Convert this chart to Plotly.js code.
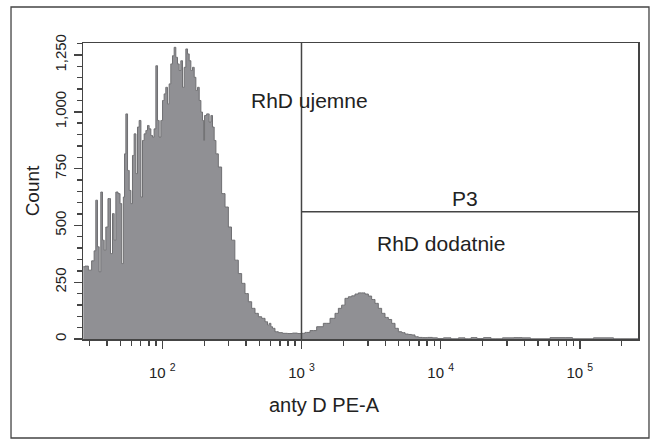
<!DOCTYPE html>
<html>
<head>
<meta charset="utf-8">
<script src="https://cdn.plot.ly/plotly-3.0.1.min.js"></script>
<style>html,body{margin:0;padding:0;background:#fff;}#chart{width:653px;height:444px;}</style>
</head>
<body>
<div id="chart"></div>
<script>
// Histogram bin positions (log10 of anty D PE-A) and counts
const binLog10 = [
  1.432,1.457,1.480,1.504,1.516,1.528,1.540,1.552,1.564,1.576,1.588,1.600,1.619,1.636,1.648,1.660,1.672,1.691,1.701,1.715,
  1.725,1.732,1.744,1.756,1.768,1.780,1.791,1.804,1.816,1.827,1.840,1.852,1.863,1.876,1.888,1.899,1.911,1.924,1.935,1.947,
  1.960,1.971,1.983,1.996,2.007,2.019,2.031,2.043,2.055,2.067,2.079,2.091,2.103,2.115,2.127,2.139,2.151,2.163,2.175,2.187,
  2.199,2.211,2.223,2.235,2.247,2.259,2.271,2.283,2.294,2.300,2.307,2.330,2.343,2.355,2.366,2.379,2.391,2.414,2.438,2.463,
  2.486,2.508,2.534,2.558,2.582,2.606,2.630,2.654,2.678,2.702,2.726,2.750,2.762,2.774,2.786,2.797,2.822,2.846,2.882,2.917,
  2.953,2.989,3.013,3.037,3.085,3.133,3.181,3.229,3.253,3.277,3.300,3.325,3.349,3.372,3.397,3.420,3.444,3.469,3.492,3.516,
  3.540,3.564,3.588,3.612,3.636,3.660,3.684,3.708,3.732,3.756,3.780,3.803,3.828,3.852,3.888,3.923,3.959,3.995,4.046,4.103,
  4.153,4.197,4.240,4.283,4.333,4.391,4.498,4.556,4.613,4.678,4.894,5.001,5.195,5.289,5.418
];
const counts = [
  318,321,303,344,388,611,406,296,647,435,391,493,618,376,552,435,647,640,596,332,
  625,815,991,742,654,596,808,903,728,933,962,625,874,903,918,940,925,896,889,925,
  1203,962,889,962,1050,1079,1108,1035,1123,1211,1247,1284,1240,1211,1182,1225,1108,1196,1277,1255,
  1225,1182,1196,1152,1094,1108,1050,999,962,874,984,991,955,984,933,874,815,757,640,581,
  493,435,347,288,245,200,164,135,113,98,91,76,61,69,54,47,32,28,25,24,
  26,24,25,29,37,54,69,91,113,135,149,179,186,190,198,203,203,198,189,174,
  157,135,113,95,86,69,47,32,28,22,20,18,10,7,6,7,5,2,5,1,
  5,1,6,2,6,1,5,6,5,1,6,1,5,1,1
];

// Axis ticks
const xTickVals = [100, 1000, 10000, 100000];
const xTickText = ['10 <sup>2</sup>', '10 <sup>3</sup>', '10 <sup>4</sup>', '10 <sup>5</sup>'];
const xMinorVals = [30,40,50,60,70,80,90,200,300,400,500,600,700,800,900,
  2000,3000,4000,5000,6000,7000,8000,9000,20000,30000,40000,50000,60000,70000,80000,90000,200000];
const yTickVals = [0, 250, 500, 750, 1000, 1250];

// Gate and labels
const gateX = 1000;
const gateY = 560;
const labels = [
  {text: 'RhD ujemne', logx: 3.060, y: 1050},
  {text: 'P3', logx: 4.175, y: 619},
  {text: 'RhD dodatnie', logx: 4.002, y: 422}
];
const xTitle = 'anty D PE-A';
const yTitle = 'Count';

const xs = binLog10.map(v => Math.pow(10, v));

const axisColor = '#444444';
const fontFam = '"Liberation Sans", Arial, sans-serif';

const trace = {
  x: xs, y: counts, type: 'scatter', mode: 'lines',
  line: {shape: 'hvh', color: '#6f6f72', width: 1},
  fill: 'tozeroy', fillcolor: '#909094',
  hoverinfo: 'skip'
};

const annots = labels.map(l => ({
  text: l.text, x: l.logx, y: l.y, xref: 'x', yref: 'y',
  showarrow: false, font: {size: 21, color: '#222'}, xanchor: 'center', yanchor: 'middle'
}));
annots.push({
  text: xTitle, x: 0.436, y: -0.223, xref: 'paper', yref: 'paper',
  showarrow: false, font: {size: 20, color: '#222'}, xanchor: 'center', yanchor: 'middle'
});

const layout = {
  width: 653, height: 444,
  margin: {l: 83, r: 15, t: 43, b: 105, pad: 0},
  paper_bgcolor: '#ffffff', plot_bgcolor: '#ffffff',
  font: {family: fontFam, color: '#222222', size: 13},
  showlegend: false,
  xaxis: {
    type: 'log', range: [1.43, 5.418], autorange: false,
    showgrid: false, zeroline: false,
    showline: true, linecolor: axisColor, linewidth: 1.5, mirror: true,
    ticks: 'outside', ticklen: 8, tickwidth: 1.4, tickcolor: axisColor,
    tickvals: xTickVals, ticktext: xTickText,
    ticklabelstandoff: 11,
    tickfont: {size: 15, color: '#222'},
    minor: {tickvals: xMinorVals, ticks: 'outside', ticklen: 5, tickwidth: 1.4, tickcolor: axisColor, showgrid: false}
  },
  yaxis: {
    range: [0, 1303], autorange: false,
    showgrid: false, zeroline: false,
    showline: true, linecolor: axisColor, linewidth: 1.5, mirror: true,
    ticks: 'outside', ticklen: 8, tickwidth: 1.4, tickcolor: axisColor,
    tickvals: yTickVals, tickformat: ',d', tickangle: -90,
    ticklabelstandoff: 2,
    tickfont: {size: 15, color: '#222'},
    minor: {dtick: 50, ticks: 'outside', ticklen: 5, tickwidth: 1.4, tickcolor: axisColor, showgrid: false},
    title: {text: yTitle, font: {size: 19, color: '#222'}, standoff: 7}
  },
  shapes: [
    {type: 'line', xref: 'x', yref: 'paper', x0: gateX, x1: gateX, y0: 0, y1: 1,
     line: {color: axisColor, width: 1.5}},
    {type: 'line', xref: 'x', yref: 'y', x0: gateX, x1: Math.pow(10, 5.418), y0: gateY, y1: gateY,
     line: {color: axisColor, width: 1.5}},
    {type: 'rect', xref: 'paper', yref: 'paper', x0: -0.1297, x1: 1.0198, y0: -0.3345, y1: 1.1216,
     line: {color: '#444444', width: 1.3}, fillcolor: 'rgba(0,0,0,0)', layer: 'below'}
  ],
  annotations: annots
};

Plotly.newPlot('chart', [trace], layout, {displayModeBar: false, staticPlot: true});
</script>
</body>
</html>
